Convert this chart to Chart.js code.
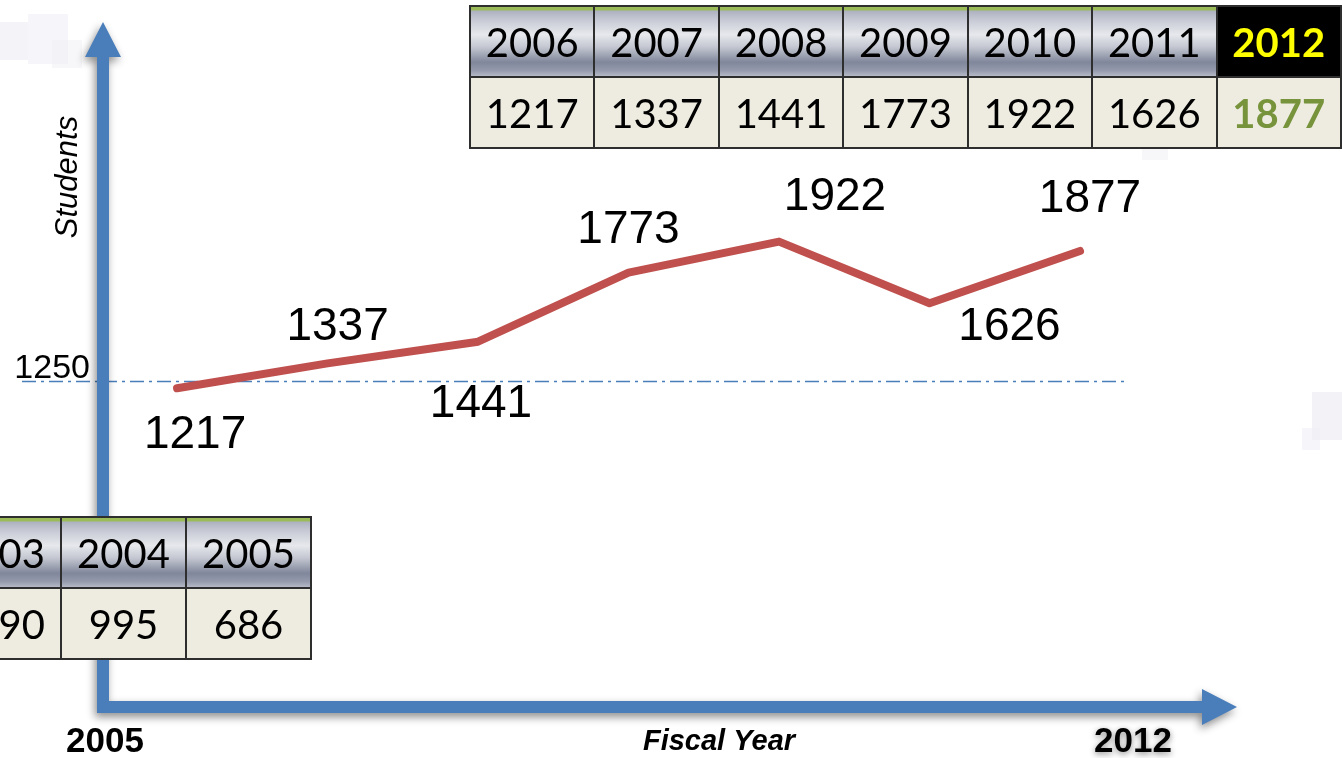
<!DOCTYPE html>
<html>
<head>
<meta charset="utf-8">
<script src="https://cdn.jsdelivr.net/npm/chart.js@4/dist/chart.umd.min.js"></script>
<style>
  html, body { margin: 0; padding: 0; background: #fff; }
  body { width: 1342px; height: 758px; overflow: hidden; position: relative; font-family: "Liberation Sans", Arial, sans-serif; }
  #c { position: absolute; left: 0; top: 0; z-index: 1; }
  .wm { position: absolute; background: #F0EFF5; z-index: 0; }
  table.yt { position: absolute; z-index: 2; border-collapse: collapse; table-layout: fixed; font-family: Lato, "Open Sans", sans-serif; font-size: 40px; }
  table.yt td { border: 2px solid #2e2e2e; text-align: center; padding: 0; width: 123px; color: #000; }
  table.yt tr.h td { height: 69px; background: linear-gradient(to bottom, #9BBB59 0px, #9BBB59 3px, #AEB2C0 4px, #C9CCD6 20%, #E6E8EC 40%, #C4C7D1 58%, #80879B 80%, #959AAC 92%, #B5B9C6 100%); }
  table.yt tr.v td { height: 69px; background: #EEECE1; }
  table.yt td.hl { background: #000 !important; color: #FFFF00; font-weight: bold; }
  table.yt td.hv { color: #77933C; font-weight: bold; }
</style>
</head>
<body>
<div class="wm" style="left:0;top:22px;width:28px;height:38px;opacity:0.7"></div>
<div class="wm" style="left:28px;top:14px;width:40px;height:50px;opacity:0.6"></div>
<div class="wm" style="left:52px;top:40px;width:30px;height:28px;opacity:0.5"></div>
<div class="wm" style="left:1312px;top:392px;width:30px;height:48px;opacity:0.8"></div>
<div class="wm" style="left:1302px;top:428px;width:18px;height:22px;opacity:0.6"></div>
<div class="wm" style="left:1142px;top:148px;width:26px;height:12px;opacity:0.5"></div>
<canvas id="c" width="1342" height="758"></canvas>
<table class="yt" id="topTable" style="left:469px;top:5px;"></table>
<table class="yt" id="oldTable" style="left:-65px;top:516px;"></table>
<script>
// ---- data ----
const categories = ['2006', '2007', '2008', '2009', '2010', '2011', '2012'];
const students   = [1217, 1337, 1441, 1773, 1922, 1626, 1877];
const earlierYears  = ['2003', '2004', '2005'];
const earlierValues = [1090, 995, 686];   // first value is cut off in the reference ("..90")
const referenceValue = 1250;
const axisStartLabel = '2005';
const axisEndLabel = '2012';
const highlightYear = '2012';

// ---- label placement (style, not data) ----
const labelOffsets = [[18, 47], [10, -36], [3, 63], [0, -42], [56, -44], [80, 24], [10, -52]];

// ---- tables ----
function buildTable(el, years, vals) {
  const hr = document.createElement('tr'); hr.className = 'h';
  const vr = document.createElement('tr'); vr.className = 'v';
  years.forEach((y, i) => {
    const th = document.createElement('td'); th.textContent = y;
    const tv = document.createElement('td'); tv.textContent = vals[i];
    if (y === highlightYear) { th.className = 'hl'; tv.className = 'hv'; }
    hr.appendChild(th); vr.appendChild(tv);
  });
  el.appendChild(hr); el.appendChild(vr);
}
buildTable(document.getElementById('topTable'), categories, students);
buildTable(document.getElementById('oldTable'), earlierYears, earlierValues);

// ---- decorations plugin ----
const deco = {
  id: 'deco',
  beforeDatasetsDraw(chart) {
    const { ctx, chartArea: a, scales } = chart;
    const yRef = scales.y.getPixelForValue(referenceValue);
    // reference dash-dot line
    ctx.save();
    ctx.strokeStyle = '#4A7EBB';
    ctx.lineWidth = 1.5;
    ctx.setLineDash([14, 5, 3, 5]);
    ctx.beginPath();
    ctx.moveTo(a.left - 81, yRef);
    ctx.lineTo(scales.x.getPixelForValue(2012.3), yRef);
    ctx.stroke();
    ctx.restore();
    ctx.save();
    ctx.fillStyle = '#000';
    ctx.font = '34px "Liberation Sans", Arial, sans-serif';
    ctx.textAlign = 'right';
    ctx.textBaseline = 'alphabetic';
    ctx.fillText(String(referenceValue), a.left - 13, yRef - 3);
    ctx.restore();

    // axes arrows
    const L = a.left, B = a.bottom, T = a.top, R = a.right;
    const hw = 6, hh = 18, hl = 35;
    ctx.save();
    ctx.shadowColor = 'rgba(0,0,0,0.45)';
    ctx.shadowBlur = 8;
    ctx.shadowOffsetX = -2;
    ctx.shadowOffsetY = 4;
    ctx.fillStyle = '#4A7EBB';
    ctx.beginPath();
    ctx.moveTo(L - hw, B + hw);
    ctx.lineTo(L - hw, T + hl);
    ctx.lineTo(L - hh, T + hl);
    ctx.lineTo(L, T);
    ctx.lineTo(L + hh, T + hl);
    ctx.lineTo(L + hw, T + hl);
    ctx.lineTo(L + hw, B - hw);
    ctx.lineTo(R - hl, B - hw);
    ctx.lineTo(R - hl, B - hh);
    ctx.lineTo(R, B);
    ctx.lineTo(R - hl, B + hh);
    ctx.lineTo(R - hl, B + hw);
    ctx.closePath();
    ctx.fill();
    ctx.restore();

    // axis titles
    ctx.save();
    ctx.fillStyle = '#000';
    ctx.textAlign = 'center';
    ctx.textBaseline = 'middle';
    ctx.font = 'italic 31px "Liberation Sans", Arial, sans-serif';
    ctx.translate(L - 35, 177);
    ctx.rotate(-Math.PI / 2);
    ctx.fillText('Students', 0, 0);
    ctx.restore();

    ctx.save();
    ctx.fillStyle = '#000';
    ctx.textAlign = 'center';
    ctx.textBaseline = 'middle';
    ctx.font = 'bold italic 29px "Liberation Sans", Arial, sans-serif';
    ctx.fillText('Fiscal Year', 719, B + 35);
    ctx.font = 'bold 35px "Liberation Sans", Arial, sans-serif';
    ctx.fillText(axisStartLabel, L + 2, B + 35);
    ctx.shadowColor = 'rgba(0,0,0,0.45)';
    ctx.shadowBlur = 6;
    ctx.shadowOffsetY = 2;
    ctx.fillText(axisEndLabel, 1133, B + 35);
    ctx.restore();
  },
  afterDatasetsDraw(chart) {
    const { ctx } = chart;
    const meta = chart.getDatasetMeta(0);
    ctx.save();
    ctx.fillStyle = '#000';
    ctx.font = '46px "Liberation Sans", Arial, sans-serif';
    ctx.textAlign = 'center';
    ctx.textBaseline = 'middle';
    meta.data.forEach((pt, i) => {
      const [dx, dy] = labelOffsets[i];
      ctx.fillText(String(students[i]), pt.x + dx, pt.y + dy);
    });
    ctx.restore();
  }
};

new Chart(document.getElementById('c'), {
  type: 'line',
  data: {
    datasets: [{
      data: categories.map((c, i) => ({ x: Number(c), y: students[i] })),
      borderColor: '#C0504D',
      borderWidth: 8,
      borderCapStyle: 'round',
      borderJoinStyle: 'round',
      pointRadius: 0,
      tension: 0,
      clip: false
    }]
  },
  options: {
    responsive: false,
    devicePixelRatio: 1,
    animation: false,
    events: [],
    layout: { padding: { left: 103, right: 105, top: 22, bottom: 51 } },
    plugins: { legend: { display: false }, tooltip: { enabled: false } },
    scales: {
      x: { type: 'linear', display: false, min: 2005.508, max: 2013.043 },
      y: { type: 'linear', display: false, min: -314.5, max: 2977.2 }
    }
  },
  plugins: [deco]
});
</script>
</body>
</html>
